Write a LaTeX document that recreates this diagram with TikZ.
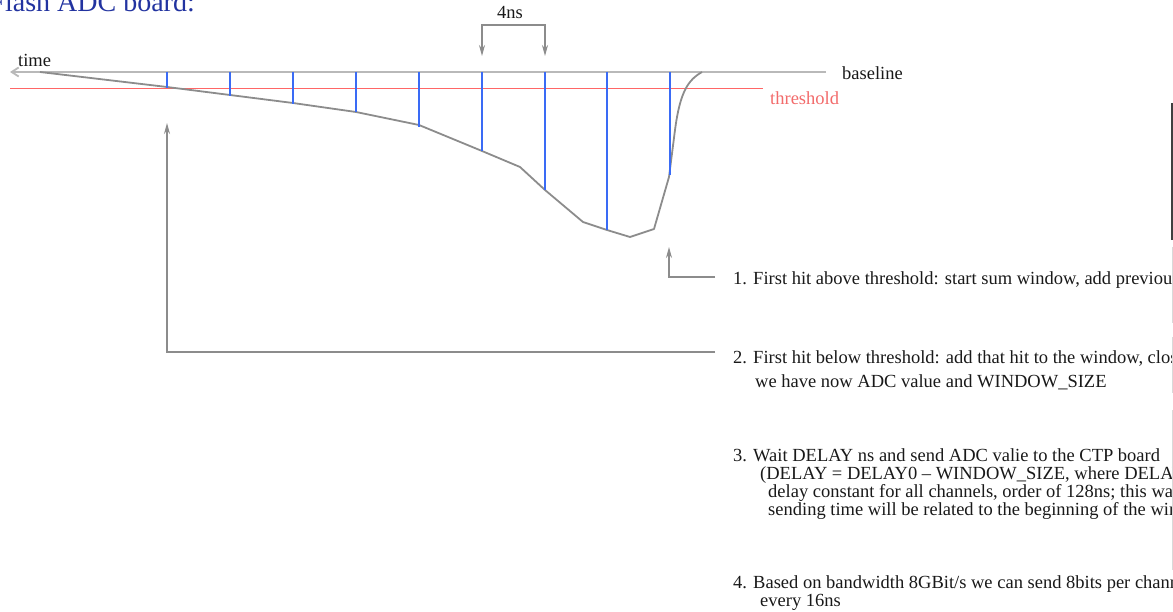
\documentclass[tikz,border=0pt]{standalone}
\usepackage{fontspec}
\setmainfont{Liberation Serif}
\usetikzlibrary{arrows.meta}
\definecolor{tickblue}{HTML}{3A6BF5}
\definecolor{thrred}{HTML}{F26B6B}
\definecolor{titleblue}{HTML}{2233A0}
\definecolor{wire}{HTML}{8C8C8C}
\tikzset{
  txt/.style={inner sep=0pt, anchor=base west, text=black!90,
    font=\fontsize{18.5}{18}\selectfont, align=left},
  wirearrow/.style={wire, line width=1.4pt, -{Stealth[length=11pt,width=6pt]}},
  hit/.style={tickblue, line width=1.8pt}
}
\begin{document}
\begin{tikzpicture}[x=1pt,y=-1pt]
\useasboundingbox (0,0) rectangle (1173,612);
\clip (0,0) rectangle (1173,612);
%\draw[help lines] (0,0) grid[step=50] (1173,612);
\node[txt, text=titleblue, font=\fontsize{28}{28}\selectfont, anchor=base east] (title) at (195,12) {Flash ADC board:};
% baseline, threshold
\draw[red!60!white, line width=0.8pt] (10,88) -- (763,88);
\draw[gray!55, line width=1.8pt, -{Straight Barb[length=7pt,width=9pt]}] (826,72) -- (10,72);
\node[txt] (time) at (18,67) {time};
\node[txt] (base) at (842,80) {baseline};
\node[txt, text=thrred] (thr) at (770,105) {threshold};
% pulse
\draw[wire, line width=1.8pt, line join=round] (40,72) -- (167,87) -- (230,95) -- (293,103) -- (356,112) -- (419,125)
  -- (482,151) -- (520,167) -- (545,190) -- (583,222) -- (607,230) -- (630,237) -- (654,229) -- (669,177)
  -- (675,130) .. controls (680,92) and (688,80) .. (702,72);
\foreach \x/\y in {167/88,230/96,293/104,356/112,419/127,482/151,545/190,607/230,670/175}
  \draw[hit] (\x,72) -- (\x,\y);
% 4ns spacing
\coordinate (s1) at (482,56);
\coordinate (s2) at (545,56);
\draw[wirearrow, {Stealth[length=11pt,width=6pt]}-{Stealth[length=11pt,width=6pt]}] (s1) -- ++(0,-31) -| (s2);
\node[txt] (ns) at (497,19) {4ns};
% steps (base anchor sits on the last line)
\node[txt] (item1) at (733,285) {1. First hit above threshold: start sum window, add previous hit};
\node[txt] (item2) at (733,387) {2. First hit below threshold: add that hit to the window, close it;\\[6pt]
  \hspace*{22pt}we have now ADC value and WINDOW\_SIZE};
\node[txt] (item3) at (733,515) {3. Wait DELAY ns and send ADC valie to the CTP board\\
  \hspace*{27pt}(DELAY = DELAY0 -- WINDOW\_SIZE, where DELAY0 is\\
  \hspace*{35pt}delay constant for all channels, order of 128ns; this way\\
  \hspace*{35pt}sending time will be related to the beginning of the window)};
\node[txt] (item4) at (733,606) {4. Based on bandwidth 8GBit/s we can send 8bits per channel\\
  \hspace*{27pt}every 16ns};
\coordinate (hit1) at (669,247);
\coordinate (hit2) at (167,123);
\coordinate (lead1) at (715,277);
\coordinate (lead2) at (715,352);
\draw[wirearrow] (lead1) -| (hit1);
\draw[wirearrow] (lead2) -| (hit2);
% window edge
\draw[black!75, line width=1.2pt] (1172,103) -- (1172,240);
\draw[black!15, line width=1pt] (1172,247) -- (1172,323) (1172,337) -- (1172,393) (1172,410) -- (1172,570);
\end{tikzpicture}
\end{document}
